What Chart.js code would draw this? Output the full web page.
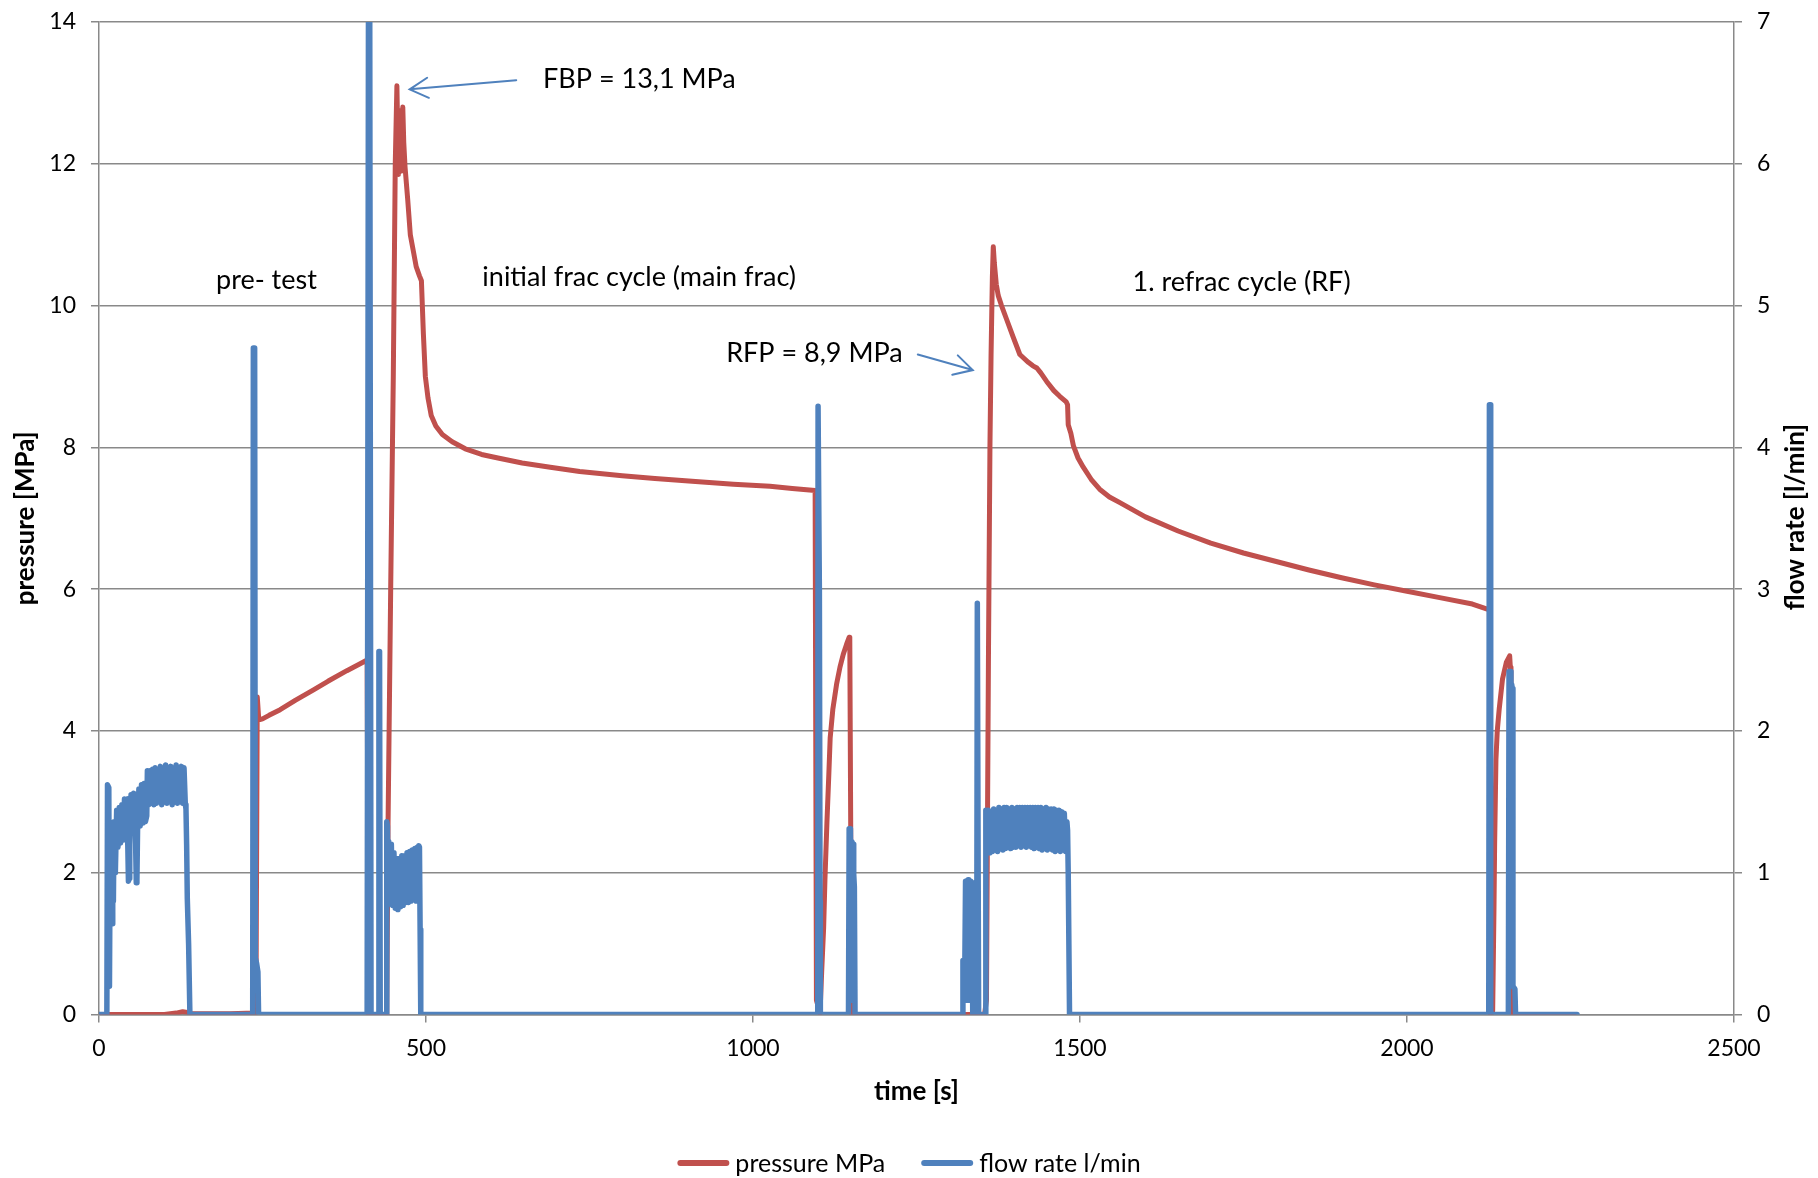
<!DOCTYPE html>
<html>
<head>
<meta charset="utf-8">
<title>pressure / flow rate</title>
<script src="https://cdn.jsdelivr.net/npm/chart.js@4.4.1/dist/chart.umd.min.js"></script>
<style>
  html, body { margin: 0; padding: 0; background: #fff; }
  #wrap { width: 1818px; height: 1178px; position: relative; }
</style>
</head>
<body>
<div id="wrap"><canvas id="c"></canvas></div>
<script>
/* ── data ── */
const xTicks = [0, 500, 1000, 1500, 2000, 2500];
const pressureTicks = [0, 2, 4, 6, 8, 10, 12, 14];
const flowTicks = [0, 1, 2, 3, 4, 5, 6, 7];

// pressure [MPa] vs time [s]
const pressTime = [
  0, 20, 100, 118, 128, 135, 140, 200, 238, 240, 242, 244, 246, 250, 260, 277, 300, 328, 350, 379, 400, 410,
  412, 440, 442, 446, 450, 453, 455.5, 457, 458, 460, 461, 462, 463, 464.5, 466, 468, 472, 476, 481, 485, 490,
  493, 496, 499, 503, 508, 515, 525, 540, 560, 585, 610, 647, 690, 735, 800, 850, 912, 970, 1026, 1060, 1095,
  1097, 1102.5, 1105, 1108, 1110, 1113, 1116, 1118, 1122, 1128, 1133, 1138, 1143, 1147, 1148, 1149.5, 1151,
  1300, 1354, 1357, 1358.7, 1360, 1362.3, 1364, 1366, 1367.4, 1369, 1372, 1375, 1380, 1388, 1398, 1408, 1415,
  1421, 1428, 1434, 1440, 1449, 1460, 1469, 1479, 1481, 1482, 1486, 1490, 1497, 1505, 1517, 1530, 1545, 1561,
  1600, 1650, 1700, 1750, 1800, 1850, 1900, 1950, 2000, 2050, 2100, 2125, 2126, 2128, 2131, 2133, 2134, 2136,
  2138, 2141, 2146, 2152, 2157, 2158, 2159, 2161, 2255
];
const pressValue = [
  0, 0, 0, 0.02, 0.04, 0.03, 0.01, 0.01, 0.02, 0.03, 4.48, 4.2, 4.16, 4.17, 4.22, 4.3, 4.43, 4.58, 4.7, 4.85, 4.95, 5.0,
  0, 0, 2.7, 6.0, 9.0, 12.0, 13.1, 12.3, 11.85, 12.5, 12.75, 12.0, 11.9, 12.8, 12.3, 11.95, 11.5, 11.0, 10.75, 10.55, 10.42,
  10.35, 9.6, 9.0, 8.7, 8.45, 8.3, 8.18, 8.08, 7.98, 7.9, 7.85, 7.78, 7.72, 7.66, 7.6, 7.56, 7.52, 7.48, 7.45, 7.42, 7.39,
  0.2, 0.02, 0.6, 1.22, 1.9, 2.7, 3.4, 3.9, 4.3, 4.67, 4.9, 5.08, 5.22, 5.32, 5.3, 2.5, 0,
  0, 0, 0.2, 2.95, 5.0, 8.0, 9.3, 10.4, 10.83, 10.6, 10.3, 10.14, 10.0, 9.8, 9.55, 9.31, 9.25,
  9.2, 9.15, 9.12, 9.05, 8.93, 8.8, 8.72, 8.64, 8.6, 8.32, 8.2, 8.02, 7.85, 7.72, 7.55, 7.41, 7.3, 7.22,
  7.02, 6.82, 6.65, 6.51, 6.39, 6.27, 6.16, 6.06, 5.97, 5.88, 5.79, 5.71, 5.7, 0, 0.05, 1.5, 2.41, 3.6,
  4.0, 4.31, 4.73, 4.97, 5.06, 4.9, 2.0, 0, 0
];

// flow rate [l/min] vs time [s]
const flowTime = [
  0, 12, 13, 15, 16, 17, 18, 19, 20, 21, 22, 23, 25, 27, 29, 31, 33, 35, 37, 39, 41, 43, 44, 45, 46, 47, 49, 51,
  53, 55, 56, 57, 58, 59, 61, 63, 65, 67, 69, 71, 73, 74, 76, 78, 80, 82, 84, 86, 88, 90, 92, 94, 96, 98, 100,
  102, 104, 106, 108, 110, 112, 114, 116, 118, 120, 122, 124, 126, 128, 130, 132, 133, 134, 135, 137, 139,
  235, 236, 238, 239, 241, 243, 244, 410, 412, 414, 416, 427, 428, 429, 430,
  439, 440, 441, 442, 443, 445, 447, 449, 451, 453, 455, 457, 459, 461, 463, 465, 467, 469, 471, 473, 475, 477,
  479, 481, 483, 485, 487, 488, 489, 490, 491, 492,
  1099, 1099.5, 1100.5, 1101.5, 1102.5, 1103, 1146, 1147, 1149, 1150, 1151, 1153, 1154, 1155, 1156,
  1320, 1321, 1322, 1324, 1325, 1326, 1327, 1328, 1329, 1330, 1331, 1332, 1333, 1334, 1335, 1336, 1342, 1343,
  1344, 1345, 1355, 1356, 1357, 1358, 1360, 1362, 1364, 1366, 1368, 1370, 1372, 1374, 1376, 1378, 1380, 1382,
  1384, 1386, 1388, 1390, 1392, 1394, 1396, 1398, 1400, 1402, 1404, 1406, 1408, 1410, 1412, 1414, 1416, 1418,
  1420, 1422, 1424, 1426, 1428, 1430, 1432, 1434, 1436, 1438, 1440, 1442, 1444, 1446, 1448, 1450, 1452, 1454,
  1456, 1458, 1460, 1462, 1464, 1466, 1468, 1470, 1472, 1474, 1476, 1478, 1480, 1481, 1482, 1484,
  2125, 2126, 2127, 2128, 2155, 2156, 2158, 2159, 2160, 2161, 2162, 2165, 2166, 2260
];
const flowValue = [
  0, 0, 1.62, 1.60, 0.20, 1.12, 0.66, 1.10, 0.64, 1.05, 0.80, 1.36, 1.00, 1.44, 1.18, 1.46, 1.21, 1.48, 1.23, 1.52, 1.25, 1.52, 1.20, 0.94, 0.96, 1.30, 1.55, 1.29,
  1.56, 1.31, 1.20, 0.93, 0.95, 1.32, 1.59, 1.33, 1.62, 1.35, 1.63, 1.36, 1.40, 1.72, 1.48, 1.72, 1.49, 1.73, 1.48, 1.74, 1.49, 1.72, 1.50, 1.75, 1.48, 1.73, 1.50,
  1.76, 1.49, 1.74, 1.50, 1.75, 1.48, 1.73, 1.50, 1.76, 1.49, 1.74, 1.50, 1.75, 1.49, 1.74, 1.48, 1.45, 1.20, 0.82, 0.50, 0,
  0, 4.70, 4.70, 0.40, 0.36, 0.30, 0, 0, 7, 7, 0, 0, 2.56, 2.56, 0,
  0, 1.36, 1.33, 0.95, 1.22, 0.78, 1.20, 0.77, 1.14, 0.75, 1.10, 0.74, 1.10, 0.76, 1.12, 0.77, 1.12, 0.79, 1.14, 0.79, 1.15, 0.80,
  1.16, 0.81, 1.17, 0.80, 1.18, 0.82, 1.19, 1.18, 0.60, 0,
  0, 4.29, 4.29, 2.99, 0.80, 0, 0, 1.31, 1.31, 0.10, 1.22, 1.20, 0.99, 0.90, 0,
  0, 0.38, 0.10, 0.40, 0.94, 0.10, 0.94, 0.20, 0.95, 0.10, 0.93, 0.20, 0.94, 0.10, 0.93, 0, 0, 2.90,
  2.90, 0, 0, 1.44, 1.40, 1.15, 1.44, 1.14, 1.43, 1.15, 1.45, 1.16, 1.44, 1.15, 1.46, 1.17, 1.45, 1.16,
  1.46, 1.17, 1.46, 1.18, 1.45, 1.17, 1.46, 1.18, 1.45, 1.18, 1.46, 1.19, 1.46, 1.18, 1.46, 1.19, 1.46, 1.18,
  1.46, 1.19, 1.46, 1.18, 1.46, 1.17, 1.46, 1.18, 1.46, 1.17, 1.46, 1.16, 1.45, 1.17, 1.46, 1.16, 1.45, 1.17,
  1.45, 1.16, 1.45, 1.15, 1.44, 1.16, 1.44, 1.15, 1.43, 1.16, 1.42, 1.15, 1.36, 1.30, 1.00, 0,
  0, 4.30, 4.30, 0, 0, 2.42, 2.42, 0.50, 2.33, 2.30, 0.20, 0.18, 0, 0
];

// text notes: [time, pressure] of the text anchor
const noteText  = ['pre- test', 'initial frac cycle (main frac)', '1. refrac cycle (RF)', 'FBP = 13,1 MPa', 'RFP = 8,9 MPa'];
const noteTime  = [256, 826, 1747, 679, 959];
const notePress = [10.23, 10.27, 10.21, 13.07, 9.21];
const noteAlign = ['center', 'center', 'center', 'left', 'left'];

// arrows: tail -> tip, in [time, pressure]
const arrowFrom = [[638, 13.18], [1252, 9.31]];
const arrowTo   = [[475, 13.05], [1336, 9.09]];

/* ── style ── */
const RED  = '#C0504D';
const BLUE = '#4F81BD';
const GRID = '#898989';
const FONT = 'Lato, "Open Sans", sans-serif';

Chart.defaults.font.family = FONT;
Chart.defaults.color = '#000';

const toPts = (xs, ys) => xs.map((t, i) => ({ x: t, y: ys[i] }));

// fixed axis boxes so the plot area sits where the original's does
const fixWidth = w => s => { s.width = w; s.paddingTop = 0; s.paddingBottom = 0; };

/* ── notes, arrows, right title, legend ── */
const overlay = {
  id: 'overlay',
  afterDraw(chart) {
    const { ctx, scales: { x, y } } = chart;
    ctx.save();

    ctx.fillStyle = '#000';
    ctx.font = `27px ${FONT}`;
    ctx.textBaseline = 'alphabetic';
    noteText.forEach((txt, i) => {
      ctx.textAlign = noteAlign[i];
      ctx.fillText(txt, x.getPixelForValue(noteTime[i]), y.getPixelForValue(notePress[i]));
    });

    ctx.strokeStyle = BLUE;
    ctx.lineWidth = 2;
    ctx.lineCap = 'round';
    arrowFrom.forEach((from, i) => {
      const x0 = x.getPixelForValue(from[0]), y0 = y.getPixelForValue(from[1]);
      const x1 = x.getPixelForValue(arrowTo[i][0]), y1 = y.getPixelForValue(arrowTo[i][1]);
      const a = Math.atan2(y1 - y0, x1 - x0);
      const hl = 21, ha = 0.5;
      ctx.beginPath();
      ctx.moveTo(x0, y0); ctx.lineTo(x1, y1);
      ctx.moveTo(x1 - hl * Math.cos(a - ha), y1 - hl * Math.sin(a - ha));
      ctx.lineTo(x1, y1);
      ctx.lineTo(x1 - hl * Math.cos(a + ha), y1 - hl * Math.sin(a + ha));
      ctx.stroke();
    });

    // right axis title, reading bottom to top like the left one
    ctx.save();
    ctx.translate(1796, 517);
    ctx.rotate(-Math.PI / 2);
    ctx.font = `bold 26px ${FONT}`;
    ctx.textAlign = 'center';
    ctx.textBaseline = 'middle';
    ctx.fillText('flow rate [l/min]', 0, 0);
    ctx.restore();

    // legend
    ctx.font = `25px ${FONT}`;
    ctx.textAlign = 'left';
    ctx.textBaseline = 'middle';
    const sw = 52, gap = 6, itemGap = 36, ly = 1163;
    const items = chart.data.datasets.map(ds => ({ label: ds.label, color: ds.borderColor, w: sw + gap + ctx.measureText(ds.label).width }));
    const total = items.reduce((s, it) => s + it.w, 0) + itemGap * (items.length - 1);
    let lx = chart.width / 2 - total / 2;
    items.forEach(it => {
      ctx.strokeStyle = it.color;
      ctx.lineWidth = 6;
      ctx.lineCap = 'round';
      ctx.beginPath();
      ctx.moveTo(lx + 3, ly); ctx.lineTo(lx + sw - 3, ly);
      ctx.stroke();
      ctx.fillText(it.label, lx + sw + gap, ly + 1);
      lx += it.w + itemGap;
    });

    ctx.restore();
  }
};

new Chart(document.getElementById('c'), {
  type: 'line',
  data: {
    datasets: [
      {
        label: 'pressure MPa', data: toPts(pressTime, pressValue), yAxisID: 'y',
        borderColor: RED, backgroundColor: RED, borderWidth: 5, order: 1,
      },
      {
        label: 'flow rate l/min', data: toPts(flowTime, flowValue), yAxisID: 'y1',
        borderColor: BLUE, backgroundColor: BLUE, borderWidth: 5.5, order: 0,
      },
    ],
  },
  options: {
    responsive: true, maintainAspectRatio: false,
    animation: false, events: [],
    layout: { padding: { top: 22, left: 0, right: 0, bottom: 0 } },
    elements: {
      point: { radius: 0 },
      line: { tension: 0, fill: false, borderJoinStyle: 'round', borderCapStyle: 'round' },
    },
    plugins: { legend: { display: false }, tooltip: { enabled: false } },
    scales: {
      x: {
        type: 'linear', min: 0, max: 2500,
        afterBuildTicks: s => { s.ticks = xTicks.map(v => ({ value: v })); },
        afterFit: s => { s.height = 1178 - 1014.5; s.paddingLeft = 0; s.paddingRight = 0; },
        ticks: { font: { size: 23 }, padding: 12, color: '#000', callback: v => String(v) },
        grid: { drawOnChartArea: false, drawTicks: true, tickLength: 8, color: GRID, lineWidth: 1.5 },
        border: { display: true, color: GRID, width: 1.5 },
        title: { display: true, text: 'time [s]', font: { size: 26, weight: 'bold' }, color: '#000', padding: { top: 0, bottom: 71 } },
      },
      y: {
        position: 'left', min: 0, max: 14,
        afterBuildTicks: s => { s.ticks = pressureTicks.map(v => ({ value: v })); },
        afterFit: fixWidth(99),
        ticks: { font: { size: 23 }, padding: 15, color: '#000', callback: v => String(v) },
        grid: { color: GRID, lineWidth: 1.5, tickLength: 8 },
        border: { display: true, color: GRID, width: 1.5 },
        title: { display: true, text: 'pressure [MPa]', font: { size: 26, weight: 'bold' }, color: '#000', padding: { top: 10, bottom: 0 } },
      },
      y1: {
        position: 'right', min: 0, max: 7,
        afterBuildTicks: s => { s.ticks = flowTicks.map(v => ({ value: v })); },
        afterFit: fixWidth(84),
        ticks: { font: { size: 23 }, padding: 15, color: '#000', callback: v => String(v) },
        grid: { drawOnChartArea: false, drawTicks: true, tickLength: 8, color: GRID, lineWidth: 1.5 },
        border: { display: true, color: GRID, width: 1.5 },
      },
    },
  },
  plugins: [overlay],
});
</script>
</body>
</html>
